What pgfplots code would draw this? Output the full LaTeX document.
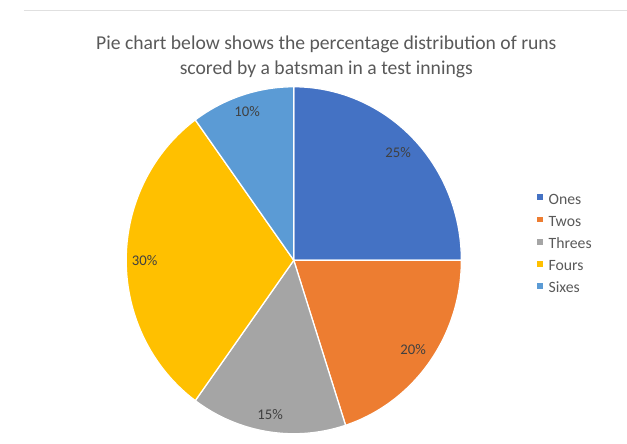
\documentclass[border=0pt]{standalone}
\usepackage{pgfplots}
\usepackage{pgfplotstable}
\pgfplotsset{compat=1.18}
\usetikzlibrary{calc}
\usepackage{fontspec}
\setmainfont{Carlito}

\definecolor{cOnes}{HTML}{4472C4}
\definecolor{cTwos}{HTML}{ED7D31}
\definecolor{cThrees}{HTML}{A5A5A5}
\definecolor{cFours}{HTML}{FFC000}
\definecolor{cSixes}{HTML}{5B9BD5}
\definecolor{txt}{HTML}{595959}

% share of runs, clockwise from 12 o'clock; lr = label distance / radius
\pgfplotstableread{
name   value col     lr
Ones   25    cOnes   0.88
Twos   20    cTwos   0.88
Threes 15    cThrees 0.90
Fours  30    cFours  0.89
Sixes  10    cSixes  0.90
}\piedata

\begin{document}
% start, end and middle angle of each slice
\gdef\cum{90}
\pgfplotstableforeachcolumnelement{value}\of\piedata\as\v{%
  \pgfmathsetmacro\e{\cum-3.6*\v}%
  \pgfmathsetmacro\m{\cum-1.8*\v}%
  \expandafter\xdef\csname sa\pgfplotstablerow\endcsname{\cum}%
  \expandafter\xdef\csname ea\pgfplotstablerow\endcsname{\e}%
  \expandafter\xdef\csname ma\pgfplotstablerow\endcsname{\m}%
  \expandafter\xdef\csname pv\pgfplotstablerow\endcsname{\v}%
  \xdef\cum{\e}%
}
\pgfplotstableforeachcolumnelement{col}\of\piedata\as\c{%
  \expandafter\xdef\csname co\pgfplotstablerow\endcsname{\c}}
\pgfplotstableforeachcolumnelement{lr}\of\piedata\as\l{%
  \expandafter\xdef\csname lr\pgfplotstablerow\endcsname{\l}}

\begin{tikzpicture}
\begin{axis}[
    x=1bp, y=1bp,
    xmin=0, xmax=627, ymin=0, ymax=450,
    hide axis,
    scale only axis,
    clip=false,
    legend style={at={(axis cs:536,254)}, anchor=north west, draw=none,
      fill=none, font=\fontsize{16}{18}\selectfont\color{txt},
      row sep=8pt, column sep=6pt, inner sep=0pt,
      nodes={inner sep=0pt, text height=11pt, text depth=3.5pt}},
    legend cell align=left,
    legend image code/.code={\fill[#1] (0pt,1pt) rectangle (5pt,6pt);},
]
\draw[black!12, line width=1.2pt] (axis cs:15,439) -- (axis cs:627,439);
\node[font=\fontsize{20}{25}\selectfont, text=txt, align=center]
  at (axis cs:322,392.5)
  {Pie chart below shows the percentage distribution of runs\\
   scored by a batsman in a test innings};
\pgfplotsinvokeforeach{0,...,4}{
  \fill[\csname co#1\endcsname, draw=white, line width=1.3pt, line join=round]
    (axis cs:289,186) -- ++(\csname sa#1\endcsname:170bp and 176bp)
    arc[start angle=\csname sa#1\endcsname, end angle=\csname ea#1\endcsname,
        x radius=170bp, y radius=176bp]
    -- cycle;
}
\pgfplotsinvokeforeach{0,...,4}{
  \node[font=\fontsize{15}{17}\selectfont, text=black!75]
    at ($(axis cs:289,186)+(\csname ma#1\endcsname:{170bp*\csname lr#1\endcsname}
        and {176bp*\csname lr#1\endcsname})$)
    {\csname pv#1\endcsname\%};
}
\addlegendimage{cOnes}\addlegendentry{Ones}
\addlegendimage{cTwos}\addlegendentry{Twos}
\addlegendimage{cThrees}\addlegendentry{Threes}
\addlegendimage{cFours}\addlegendentry{Fours}
\addlegendimage{cSixes}\addlegendentry{Sixes}
\end{axis}
\pgfresetboundingbox
\useasboundingbox (0,0) rectangle (627bp,450bp);
\end{tikzpicture}
\end{document}
